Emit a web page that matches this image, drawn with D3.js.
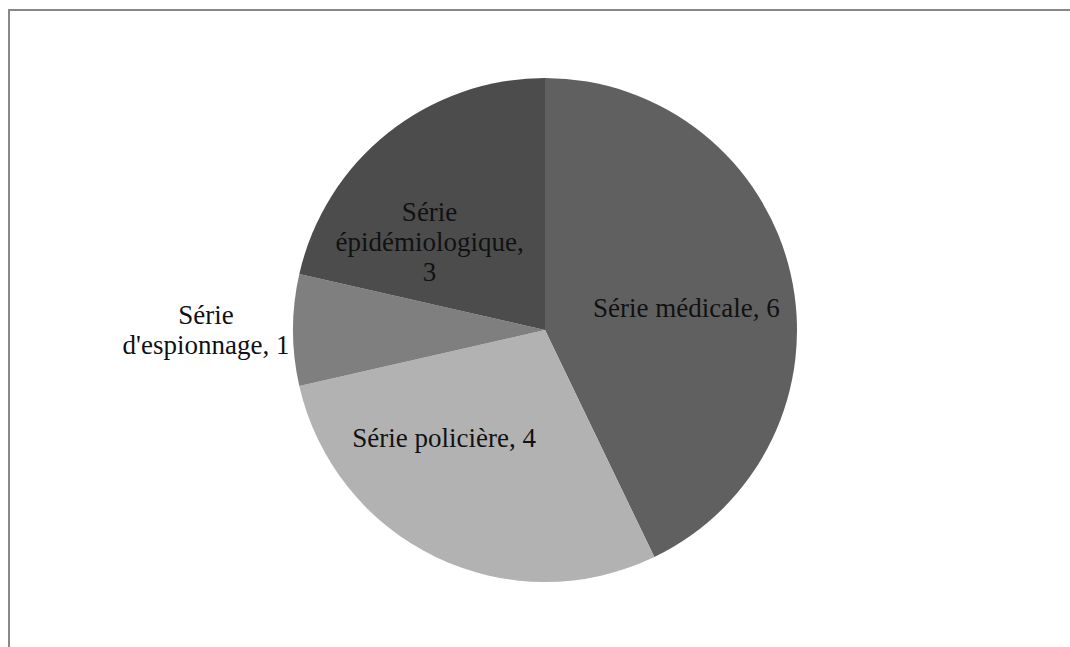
<!DOCTYPE html>
<html lang="fr">
  <head>
    <meta charset="UTF-8" />
    <title>Séries</title>
    <script src="https://cdn.jsdelivr.net/npm/d3@7"></script>
    <style>
      body { margin: 0; background: #fff; }
      text { font-family: "Liberation Serif", "Times New Roman", serif; fill: #111; }
    </style>
  </head>
  <body>
    <div id="chart"></div>
    <script>
      // data
      var categories = ["Série médicale", "Série policière", "Série d'espionnage", "Série épidémiologique"];
      var values = [6, 4, 1, 3];
      var colors = ["#606060", "#b2b2b2", "#7f7f7f", "#4c4c4c"];

      // label layout: text lines, and nudge from the centroid
      var labelLines = [
        ["Série médicale, 6"],
        ["Série policière, 4"],
        ["Série", "d'espionnage, 1"],
        ["Série", "épidémiologique,", "3"]
      ];
      var labelNudge = [[0, 10], [-38, -23], [-4, 0], [-25, 25]];
      var labelRadius = [145, 145, 335, 145];

      var width = 1070;
      var height = 647;
      var cx = 545, cy = 330, radius = 252;
      var lineH = 30;

      var svg = d3.select("#chart")
                  .append("svg")
                  .attr("width", width)
                  .attr("height", height);

      // chart border (runs off the right/bottom of the frame)
      svg.append("rect")
         .attr("x", 9)
         .attr("y", 10)
         .attr("width", width + 50)
         .attr("height", height + 50)
         .attr("fill", "none")
         .attr("stroke", "#888")
         .attr("stroke-width", 2);

      var pie = d3.pie().sort(null).value(function(d){ return d; });
      var arcs = pie(values);

      var arc = d3.arc().innerRadius(0).outerRadius(radius);

      var g = svg.append("g")
                 .attr("transform", "translate(" + cx + "," + cy + ")");

      g.selectAll("path")
       .data(arcs)
       .enter()
       .append("path")
       .attr("d", arc)
       .attr("fill", function(d, i){ return colors[i]; });

      var labels = g.selectAll("text.lbl")
                    .data(arcs)
                    .enter()
                    .append("text")
                    .attr("class", "lbl")
                    .attr("text-anchor", "middle")
                    .attr("font-size", 27)
                    .attr("transform", function(d, i){
                      var c = d3.arc().innerRadius(labelRadius[i]).outerRadius(labelRadius[i]).centroid(d);
                      return "translate(" + (c[0] + labelNudge[i][0]) + "," + (c[1] + labelNudge[i][1]) + ")";
                    });

      labels.each(function(d, i){
        var lines = labelLines[i];
        var t = d3.select(this);
        var y0 = -(lines.length - 1) * lineH / 2;
        lines.forEach(function(s, k){
          t.append("tspan")
           .attr("x", 0)
           .attr("y", y0 + k * lineH)
           .attr("dy", "0.35em")
           .text(s);
        });
      });
    </script>
  </body>
</html>
